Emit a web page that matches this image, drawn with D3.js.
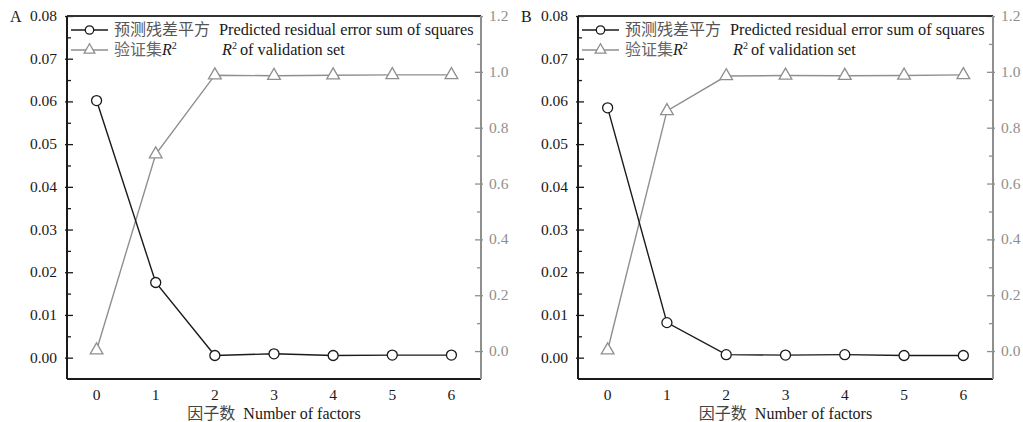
<!DOCTYPE html>
<html>
<head>
<meta charset="utf-8">
<script src="https://cdn.jsdelivr.net/npm/d3@7"></script>
<style>
  body { margin: 0; background: #fff; }
  text { font-family: "Liberation Serif", "Noto Sans CJK SC", serif; }
</style>
</head>
<body>
<div id="chart"></div>
<script>
// number of factors
var factors = [0, 1, 2, 3, 4, 5, 6];

// panel A
var pressA = [0.0602, 0.0176, 0.0005, 0.0009, 0.0005, 0.0006, 0.0006];
var r2A    = [0.003, 0.705, 0.988, 0.986, 0.988, 0.989, 0.989];

// panel B
var pressB = [0.0585, 0.0082, 0.0007, 0.0006, 0.0007, 0.0005, 0.0005];
var r2B    = [0.003, 0.860, 0.985, 0.987, 0.986, 0.987, 0.989];

var leftTicks  = [0.00, 0.01, 0.02, 0.03, 0.04, 0.05, 0.06, 0.07, 0.08];
var rightTicks = [0.0, 0.2, 0.4, 0.6, 0.8, 1.0, 1.2];

var BLACK = "#1a1a1a", GREY = "#8f8f8f";

var svg = d3.select("#chart").append("svg")
    .attr("width", 1023)
    .attr("height", 422);

function drawPanel(letter, left, right, press, r2) {
    var top = 16, bottom = 379;
    var g = svg.append("g");

    var x = d3.scaleLinear().domain([-0.5, 6.5]).range([left, right]);
    var yL = d3.scaleLinear().domain([-0.005, 0.08]).range([bottom, top]);
    var yR = d3.scaleLinear().domain([-0.1, 1.2]).range([bottom, top]);

    // left axis, ticks inward
    var axL = g.append("g").attr("transform", "translate(" + left + ",0)")
        .call(d3.axisRight(yL).tickValues(d3.range(0, 0.0801, 0.005)).tickSize(4).tickFormat(""));
    axL.selectAll("line").attr("stroke", BLACK).attr("stroke-width", 1.3)
        .filter(function(d){ return Math.abs(Math.round(d * 100) - d * 100) < 1e-6; })
        .attr("x1", -2).attr("x2", 6);
    axL.select(".domain").remove();
    g.selectAll(".ltick").data(leftTicks).enter().append("text")
        .attr("x", left - 10).attr("y", function(d){ return yL(d) + 5; })
        .attr("text-anchor", "end").attr("font-size", 15.5).attr("fill", BLACK)
        .text(function(d){ return d.toFixed(2); });

    // right axis, ticks inward, grey
    var axR = g.append("g").attr("transform", "translate(" + right + ",0)")
        .call(d3.axisLeft(yR).tickValues(d3.range(0, 1.201, 0.1)).tickSize(4).tickFormat(""));
    axR.selectAll("line").attr("stroke", GREY).attr("stroke-width", 1.3)
        .filter(function(d, i){ return i % 2 == 0; })
        .attr("x1", 2).attr("x2", -6);
    axR.select(".domain").remove();
    g.selectAll(".rtick").data(rightTicks).enter().append("text")
        .attr("x", right + 8).attr("y", function(d){ return yR(d) + 5; })
        .attr("font-size", 15.5).attr("fill", GREY)
        .text(function(d){ return d.toFixed(1); });

    // frame
    g.append("line").attr("x1", left).attr("x2", right).attr("y1", top).attr("y2", top)
        .attr("stroke", "#333").attr("stroke-width", 2);
    g.append("line").attr("x1", left).attr("x2", right).attr("y1", bottom).attr("y2", bottom)
        .attr("stroke", BLACK).attr("stroke-width", 2);
    g.append("line").attr("x1", left).attr("x2", left).attr("y1", top).attr("y2", bottom)
        .attr("stroke", BLACK).attr("stroke-width", 2);
    g.append("line").attr("x1", right).attr("x2", right).attr("y1", top).attr("y2", bottom)
        .attr("stroke", GREY).attr("stroke-width", 2);

    // x tick labels
    g.selectAll(".xtick").data(factors).enter().append("text")
        .attr("x", function(d){ return x(d); }).attr("y", 400)
        .attr("text-anchor", "middle").attr("font-size", 15.5).attr("fill", BLACK)
        .text(function(d){ return d; });
    var xt = g.append("text").attr("x", (left + right) / 2).attr("y", 419)
        .attr("text-anchor", "middle").attr("font-size", 16).attr("fill", BLACK);
    xt.append("tspan").attr("fill", "#444").text("因子数");
    xt.append("tspan").attr("dx", 8).text("Number of factors");

    // panel letter
    g.append("text").attr("x", left - 57).attr("y", 22).attr("font-size", 16)
        .attr("fill", BLACK).text(letter);

    // R2 line (grey, triangles)
    var lineR = d3.line().x(function(d, i){ return x(factors[i]); }).y(function(d){ return yR(d); });
    g.append("path").datum(r2).attr("d", lineR).attr("fill", "none")
        .attr("stroke", GREY).attr("stroke-width", 1.4);
    var tri = d3.symbol().type(d3.symbolTriangle).size(70);
    g.selectAll(".tri").data(r2).enter().append("path")
        .attr("d", tri)
        .attr("transform", function(d, i){ return "translate(" + x(factors[i]) + "," + yR(d) + ")"; })
        .attr("fill", "#fff").attr("stroke", GREY).attr("stroke-width", 1.3);

    // PRESS line (black, circles)
    var lineL = d3.line().x(function(d, i){ return x(factors[i]); }).y(function(d){ return yL(d); });
    g.append("path").datum(press).attr("d", lineL).attr("fill", "none")
        .attr("stroke", BLACK).attr("stroke-width", 1.4);
    g.selectAll(".dot").data(press).enter().append("circle")
        .attr("cx", function(d, i){ return x(factors[i]); })
        .attr("cy", function(d){ return yL(d); })
        .attr("r", 5).attr("fill", "#fff").attr("stroke", BLACK).attr("stroke-width", 1.3);

    // legend
    var lx = left + 4;
    var triSmall = d3.symbol().type(d3.symbolTriangle).size(50);
    g.append("line").attr("x1", lx).attr("x2", lx + 37).attr("y1", 30).attr("y2", 30)
        .attr("stroke", BLACK).attr("stroke-width", 1.4);
    g.append("circle").attr("cx", lx + 18.5).attr("cy", 30).attr("r", 4.2)
        .attr("fill", "#fff").attr("stroke", BLACK).attr("stroke-width", 1.3);
    g.append("line").attr("x1", lx).attr("x2", lx + 37).attr("y1", 50).attr("y2", 50)
        .attr("stroke", GREY).attr("stroke-width", 1.4);
    g.append("path").attr("d", triSmall)
        .attr("transform", "translate(" + (lx + 18.5) + ",50)")
        .attr("fill", "#fff").attr("stroke", GREY).attr("stroke-width", 1.3);

    g.append("text").attr("x", lx + 43).attr("y", 35).attr("font-size", 16)
        .attr("fill", "#555").text("预测残差平方");
    g.append("text").attr("x", lx + 148).attr("y", 35).attr("font-size", 16.3)
        .attr("fill", BLACK).text("Predicted residual error sum of squares");

    var t1 = g.append("text").attr("x", lx + 43).attr("y", 55).attr("font-size", 16).attr("fill", "#666");
    t1.append("tspan").text("验证集");
    t1.append("tspan").attr("font-style", "italic").attr("fill", BLACK).text("R");
    t1.append("tspan").attr("font-size", 10).attr("dy", -6).attr("fill", BLACK).text("2");

    var t2 = g.append("text").attr("x", lx + 151).attr("y", 55).attr("font-size", 16.3).attr("fill", BLACK);
    t2.append("tspan").attr("font-style", "italic").text("R");
    t2.append("tspan").attr("font-size", 10).attr("dy", -6).text("2");
    t2.append("tspan").attr("dy", 6).attr("dx", 3).text("of  validation set");
}

drawPanel("A", 67, 481, pressA, r2A);
drawPanel("B", 578, 993, pressB, r2B);
</script>
</body>
</html>
